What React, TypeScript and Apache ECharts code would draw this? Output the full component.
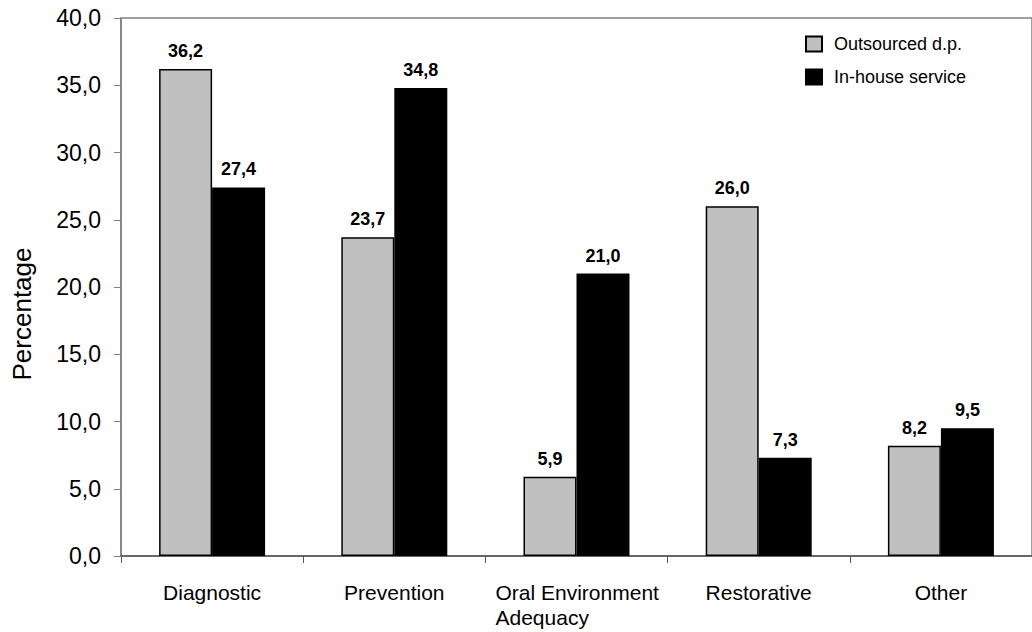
import React, { useEffect, useRef } from "react";
import * as echarts from "echarts";

const categories = ["Diagnostic", "Prevention", "Oral Environment\nAdequacy", "Restorative", "Other"];
const outsourced = [36.2, 23.7, 5.9, 26.0, 8.2];
const inHouse = [27.4, 34.8, 21.0, 7.3, 9.5];
const seriesNames = ["Outsourced d.p.", "In-house service"];
const yMin = 0;
const yMax = 40;
const yStep = 5;

const fmt = (v: number) => v.toFixed(1).replace(".", ",");
const FONT = "'Liberation Sans', Arial, sans-serif";

export default function App() {
  const ref = useRef<HTMLDivElement>(null);
  useEffect(() => {
    document.body.style.margin = "0";
    if (!ref.current) return;
    const chart = echarts.init(ref.current, undefined, { renderer: "svg" });
    const labelStyle = {
      show: true,
      position: "top" as const,
      distance: 9,
      fontFamily: FONT,
      fontSize: 18,
      fontWeight: "bold" as const,
      color: "#000",
      formatter: (p: any) => fmt(p.value),
    };
    chart.setOption({
      animation: false,
      textStyle: { fontFamily: FONT },
      grid: {
        left: 121,
        top: 18,
        right: -7,
        bottom: 76,
        show: true,
        borderColor: "#808080",
        borderWidth: 1.5,
        containLabel: false,
      },
      legend: {
        orient: "vertical",
        left: 805,
        top: 35,
        padding: 0,
        itemWidth: 16,
        itemHeight: 15,
        itemGap: 15,
        icon: "rect",
        textStyle: { fontFamily: FONT, fontSize: 18, color: "#000", padding: [0, 0, 0, 7] },
        data: seriesNames,
      },
      graphic: [
        {
          type: "text",
          x: 22,
          y: 314,
          rotation: Math.PI / 2,
          style: {
            text: "Percentage",
            fontFamily: FONT,
            fontSize: 26,
            fill: "#000",
            textAlign: "center",
            textVerticalAlign: "middle",
          },
        },
      ],
      xAxis: {
        type: "category",
        data: categories,
        axisLine: { lineStyle: { color: "#555", width: 1.5 } },
        axisTick: { show: true, inside: false, length: 7, alignWithLabel: false, lineStyle: { color: "#555" } },
        axisLabel: {
          interval: 0,
          margin: 24,
          fontFamily: FONT,
          fontSize: 21,
          color: "#000",
          lineHeight: 25,
          formatter: (v: string) =>
            v.includes("\n") ? v.split("\n").map((l) => `{l|${l}}`).join("\n") : v,
          rich: {
            l: { width: 162, align: "left", fontFamily: FONT, fontSize: 21, color: "#000", lineHeight: 25 },
          },
        },
        splitLine: { show: false },
      },
      yAxis: {
        type: "value",
        min: yMin,
        max: yMax,
        interval: yStep,
        axisLine: { show: true, lineStyle: { color: "#808080", width: 1.5 } },
        axisTick: { show: true, inside: false, length: 7, lineStyle: { color: "#808080" } },
        axisLabel: {
          margin: 20,
          fontFamily: FONT,
          fontSize: 23,
          color: "#000",
          formatter: (v: number) => fmt(v),
        },
        splitLine: { show: false },
      },
      series: [
        {
          name: seriesNames[0],
          type: "bar",
          data: outsourced,
          barWidth: 53,
          barGap: "0%",
          itemStyle: { color: "#c0c0c0", borderColor: "#000", borderWidth: 1.5 },
          label: labelStyle,
        },
        {
          name: seriesNames[1],
          type: "bar",
          data: inHouse,
          barWidth: 53,
          barGap: "0%",
          itemStyle: { color: "#000", borderColor: "#000", borderWidth: 1.5 },
          label: labelStyle,
        },
      ],
    });
    return () => chart.dispose();
  }, []);
  return <div ref={ref} style={{ width: 1032, height: 632 }} />;
}
